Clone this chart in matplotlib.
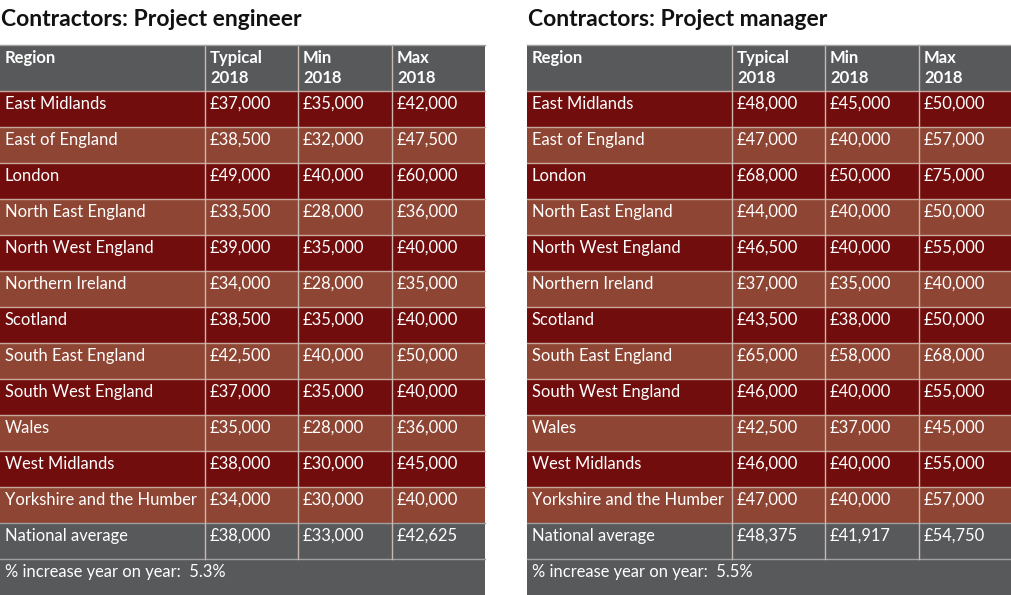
import matplotlib.pyplot as plt
from matplotlib.patches import Rectangle

regions = ["East Midlands", "East of England", "London", "North East England",
           "North West England", "Northern Ireland", "Scotland", "South East England",
           "South West England", "Wales", "West Midlands", "Yorkshire and the Humber"]

eng_typical = [37000, 38500, 49000, 33500, 39000, 34000, 38500, 42500, 37000, 35000, 38000, 34000]
eng_min = [35000, 32000, 40000, 28000, 35000, 28000, 35000, 40000, 35000, 28000, 30000, 30000]
eng_max = [42000, 47500, 60000, 36000, 40000, 35000, 40000, 50000, 40000, 36000, 45000, 40000]
eng_avg = [38000, 33000, 42625]
eng_increase = "5.3%"

mgr_typical = [48000, 47000, 68000, 44000, 46500, 37000, 43500, 65000, 46000, 42500, 46000, 47000]
mgr_min = [45000, 40000, 50000, 40000, 40000, 35000, 38000, 58000, 40000, 37000, 40000, 40000]
mgr_max = [50000, 57000, 75000, 50000, 55000, 40000, 50000, 68000, 55000, 45000, 55000, 57000]
mgr_avg = [48375, 41917, 54750]
mgr_increase = "5.5%"

headers = ["Region", "Typical\n2018", "Min\n2018", "Max\n2018"]

DARK = "#720d0d"
LIGHT = "#8f4533"
GREY = "#58595b"
FONT = "Lato"

fig = plt.figure(figsize=(10.12, 5.95), dpi=100)
ax = fig.add_axes([0, 0, 1, 1])
ax.set_xlim(0, 1012)
ax.set_ylim(595, 0)
ax.axis("off")


def money(v):
    return "£{:,}".format(v)


def draw_table(x0, title, typ, mn, mx, avg, inc):
    col_w = [205, 93, 94, 93]
    col_x = [x0]
    for w in col_w[:-1]:
        col_x.append(col_x[-1] + w)
    width = sum(col_w)
    top = 45
    head_h = 46
    row_h = 36

    ax.text(x0 + 1, 19, title, fontsize=16.5, fontweight="bold", family=FONT,
            va="center", ha="left", color="#111111")

    # header
    ax.add_patch(Rectangle((x0, top), width, head_h, facecolor=GREY, edgecolor="none"))
    for j, h in enumerate(headers):
        ax.text(col_x[j] + 5, top + 5, h, fontsize=12, fontweight="bold", family=FONT,
                color="white", va="top", ha="left", linespacing=1.3)

    rows = []
    for i, r in enumerate(regions):
        rows.append([r, money(typ[i]), money(mn[i]), money(mx[i])])
    rows.append(["National average"] + [money(v) for v in avg])

    y = top + head_h
    for i, row in enumerate(rows):
        if i == len(rows) - 1:
            fc = GREY
            ec = "#a0a0a0"
        else:
            fc = DARK if i % 2 == 0 else LIGHT
            ec = "#c8a89c"
        ax.add_patch(Rectangle((x0, y), width, row_h, facecolor=fc, edgecolor="none"))
        for j, cell in enumerate(row):
            ax.text(col_x[j] + 5, y + 13, cell, fontsize=11.9, family=FONT,
                    color="white", va="center", ha="left")
        ax.plot([x0, x0 + width], [y, y], color=ec, lw=1)
        y += row_h

    # increase row
    ax.add_patch(Rectangle((x0, y), width, 595 - y, facecolor=GREY, edgecolor="none"))
    ax.plot([x0, x0 + width], [y, y], color="#a0a0a0", lw=1)
    ax.text(x0 + 5, y + 13, "% increase year on year:  " + inc, fontsize=11.9, family=FONT,
            color="white", va="center", ha="left")

    # vertical lines
    for cx in col_x[1:]:
        ax.plot([cx, cx], [top, y], color="#c8b8b0", lw=1)
    ax.plot([x0, x0 + width], [top, top], color="#a0a0a0", lw=1)


draw_table(0, "Contractors: Project engineer", eng_typical, eng_min, eng_max, eng_avg, eng_increase)
draw_table(527, "Contractors: Project manager", mgr_typical, mgr_min, mgr_max, mgr_avg, mgr_increase)

fig.savefig("out.png", dpi=100)
